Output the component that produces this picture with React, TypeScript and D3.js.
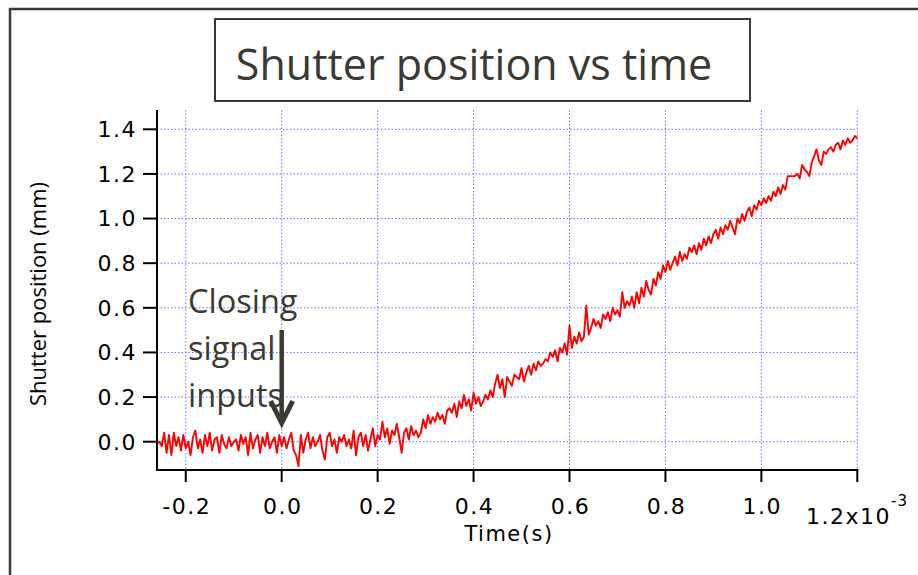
import React from "react";
import * as d3 from "d3";

// ---- data (time in seconds, position in mm) ----
const timeStart = -0.26e-3;
const timeStep = 0.005e-3;
const position: number[] = [
  -0.01, 0.0, -0.02, 0.04, -0.05, 0.03, -0.06, 0.04, -0.02, 0.02,
  -0.04, 0.03, -0.03, 0.0, -0.06, 0.02, 0.05, -0.03, 0.01, -0.05,
  0.03, -0.02, 0.04, -0.04, 0.01, 0.02, -0.05, 0.03, -0.01, -0.03,
  0.02, -0.02, 0.0, 0.01, -0.04, 0.03, -0.01, 0.02, -0.06, 0.04,
  -0.03, 0.01, 0.03, -0.05, 0.02, -0.02, 0.04, -0.03, 0.0, 0.02,
  -0.05, 0.03, -0.02, 0.02, -0.03, 0.01, 0.04, -0.04, -0.06, -0.11,
  0.03, -0.05, 0.01, 0.04, -0.03, 0.02, -0.02, 0.0, 0.03, -0.04,
  -0.08, 0.02, 0.04, -0.02, 0.01, -0.05, 0.02, 0.0, 0.03, -0.02,
  0.01, -0.03, 0.05, -0.06, 0.02, 0.04, -0.02, 0.03, -0.04, 0.01,
  0.06, -0.02, 0.03, 0.01, 0.09, 0.02, 0.06, -0.01, 0.05, 0.03,
  0.08, 0.02, -0.05, 0.04, 0.06, 0.01, 0.07, 0.03, 0.05, 0.02,
  0.04, 0.1, 0.06, 0.12, 0.08, 0.11, 0.09, 0.13, 0.1, 0.12,
  0.08, 0.14, 0.15, 0.13, 0.17, 0.11, 0.18, 0.15, 0.21, 0.16,
  0.19, 0.14, 0.22, 0.17, 0.2, 0.16, 0.18, 0.21, 0.19, 0.23,
  0.2, 0.26, 0.3, 0.24, 0.28, 0.2, 0.29, 0.27, 0.25, 0.3,
  0.29, 0.28, 0.33, 0.27, 0.31, 0.34, 0.3, 0.35, 0.32, 0.36,
  0.34, 0.35, 0.37, 0.36, 0.4, 0.38, 0.41, 0.36, 0.42, 0.4,
  0.44, 0.39, 0.52, 0.42, 0.47, 0.44, 0.49, 0.45, 0.47, 0.61,
  0.48, 0.51, 0.55, 0.52, 0.54, 0.51, 0.57, 0.55, 0.58, 0.54,
  0.6, 0.57, 0.59, 0.56, 0.67, 0.6, 0.63, 0.61, 0.65, 0.6,
  0.67, 0.62, 0.69, 0.65, 0.72, 0.68, 0.66, 0.73, 0.7, 0.76,
  0.73, 0.79, 0.76, 0.81, 0.77, 0.8, 0.83, 0.79, 0.85, 0.81,
  0.84, 0.82, 0.87, 0.85, 0.88, 0.84, 0.89, 0.86, 0.91, 0.88,
  0.92, 0.89, 0.93, 0.95, 0.91, 0.96, 0.93, 0.97, 0.95, 0.99,
  0.96, 0.93, 1.0, 0.98, 1.02, 0.99, 1.03, 1.05, 1.01, 1.06,
  1.04, 1.08, 1.06, 1.09, 1.07, 1.1, 1.08, 1.12, 1.1, 1.14,
  1.11, 1.15, 1.13, 1.19, 1.19, 1.19, 1.19, 1.2, 1.18, 1.24,
  1.22, 1.21, 1.19, 1.25, 1.28, 1.31, 1.26, 1.24, 1.3, 1.29,
  1.31, 1.32, 1.3, 1.33, 1.34, 1.31, 1.35, 1.33, 1.36, 1.34,
  1.35, 1.37, 1.36,
];
const xTicks = [-0.2e-3, 0, 0.2e-3, 0.4e-3, 0.6e-3, 0.8e-3, 1.0e-3, 1.2e-3];
const xTickLabels = ["-0.2", "0.0", "0.2", "0.4", "0.6", "0.8", "1.0", "1.2x10"];
const yTicks = [0, 0.2, 0.4, 0.6, 0.8, 1.0, 1.2, 1.4];
const yTickLabels = ["0.0", "0.2", "0.4", "0.6", "0.8", "1.0", "1.2", "1.4"];
const title = "Shutter position vs time";
const xTitle = "Time(s)";
const yTitle = "Shutter position (mm)";
const annotationLines = ["Closing", "signal", "inputs"];
const annotationTime = 0;

export default function App() {
  const x = d3.scaleLinear().domain([0, 1.2e-3]).range([281.7, 857.3]);
  const y = d3.scaleLinear().domain([0, 1.4]).range([441.7, 129.3]);
  const xMin = -0.26e-3;
  const yMin = -0.127;
  const yMax = 1.486;
  const left = x(xMin);
  const right = x(1.2e-3);
  const bottom = y(yMin);
  const top = y(yMax);

  const pts: [number, number][] = position.map((v, i) => [timeStart + i * timeStep, v]);
  const line = d3
    .line<[number, number]>()
    .x((d) => x(d[0]))
    .y((d) => y(d[1]));

  const dark = "#3a3a32";
  const tickFont = "'DejaVu Sans', Verdana, sans-serif";
  const officeFont = "'Open Sans', 'Noto Sans', sans-serif";
  const ax = x(annotationTime);

  return (
    <svg
      width={918}
      height={575}
      style={{ position: "absolute", left: 0, top: 0, background: "#fff" }}
    >
      <rect x={0} y={0} width={918} height={575} fill="#fff" />
      {/* outer frame */}
      <rect x={10} y={9} width={930} height={590} fill="none" stroke={dark} strokeWidth={2.5} />

      {/* grid */}
      {xTicks.map((t, i) => (
        <line key={"gx" + i} x1={x(t)} x2={x(t)} y1={top} y2={bottom} stroke="#6a6aff" strokeWidth={1} strokeDasharray="1.5,2" />
      ))}
      {yTicks.map((t, i) => (
        <line key={"gy" + i} x1={left} x2={right} y1={y(t)} y2={y(t)} stroke="#6a6aff" strokeWidth={1} strokeDasharray="1.5,2" />
      ))}

      {/* data */}
      <path d={line(pts) || ""} fill="none" stroke="#ff0000" strokeWidth={1.9} strokeLinejoin="round" />

      {/* axes */}
      <line x1={left} x2={left} y1={top} y2={bottom + 1} stroke="#000" strokeWidth={2} />
      <line x1={left - 1} x2={right + 1} y1={bottom} y2={bottom} stroke="#000" strokeWidth={2} />
      {yTicks.map((t, i) => (
        <g key={"ty" + i}>
          <line x1={left - 14} x2={left} y1={y(t)} y2={y(t)} stroke="#000" strokeWidth={2} />
          <text x={137} y={y(t)} dy="0.36em" textAnchor="end" fontFamily={tickFont} fontSize={22} letterSpacing={1.5} fill="#000">
            {yTickLabels[i]}
          </text>
        </g>
      ))}
      {xTicks.map((t, i) => (
        <g key={"tx" + i}>
          <line x1={x(t)} x2={x(t)} y1={bottom} y2={bottom + 12} stroke="#000" strokeWidth={2} />
          {i < xTicks.length - 1 ? (
            <text x={x(t) + 1} y={514} textAnchor="middle" fontFamily={tickFont} fontSize={22} letterSpacing={1.5} fill="#000">
              {xTickLabels[i]}
            </text>
          ) : (
            <text x={806} y={524} textAnchor="start" fontFamily={tickFont} fontSize={22} letterSpacing={1.5} fill="#000">
              {xTickLabels[i]}
              <tspan dy={-18} fontSize={15} letterSpacing={1}>-3</tspan>
            </text>
          )}
        </g>
      ))}
      <text x={509} y={541} textAnchor="middle" fontFamily={tickFont} fontSize={21} letterSpacing={1.5} fill="#000">
        {xTitle}
      </text>
      <text
        transform={`translate(46,${294}) rotate(-90)`}
        textAnchor="middle"
        fontFamily={officeFont}
        fontSize={22}
        fill="#000"
      >
        {yTitle}
      </text>

      {/* title box */}
      <rect x={215} y={19} width={535} height={82} fill="#fff" stroke={dark} strokeWidth={2} />
      <text x={474} y={80} textAnchor="middle" fontFamily={officeFont} fontSize={43} fill={dark}>
        {title}
      </text>

      {/* annotation */}
      {annotationLines.map((s, i) => (
        <text key={"an" + i} x={188} y={313 + i * 47} fontFamily={officeFont} fontSize={32.5} fill={dark}>
          {s}
        </text>
      ))}
      <line x1={ax} x2={ax} y1={330} y2={421} stroke={dark} strokeWidth={4.5} />
      <polyline points={`${ax - 11},${401} ${ax},${423} ${ax + 11},${401}`} fill="none" stroke={dark} strokeWidth={5} />
    </svg>
  );
}
